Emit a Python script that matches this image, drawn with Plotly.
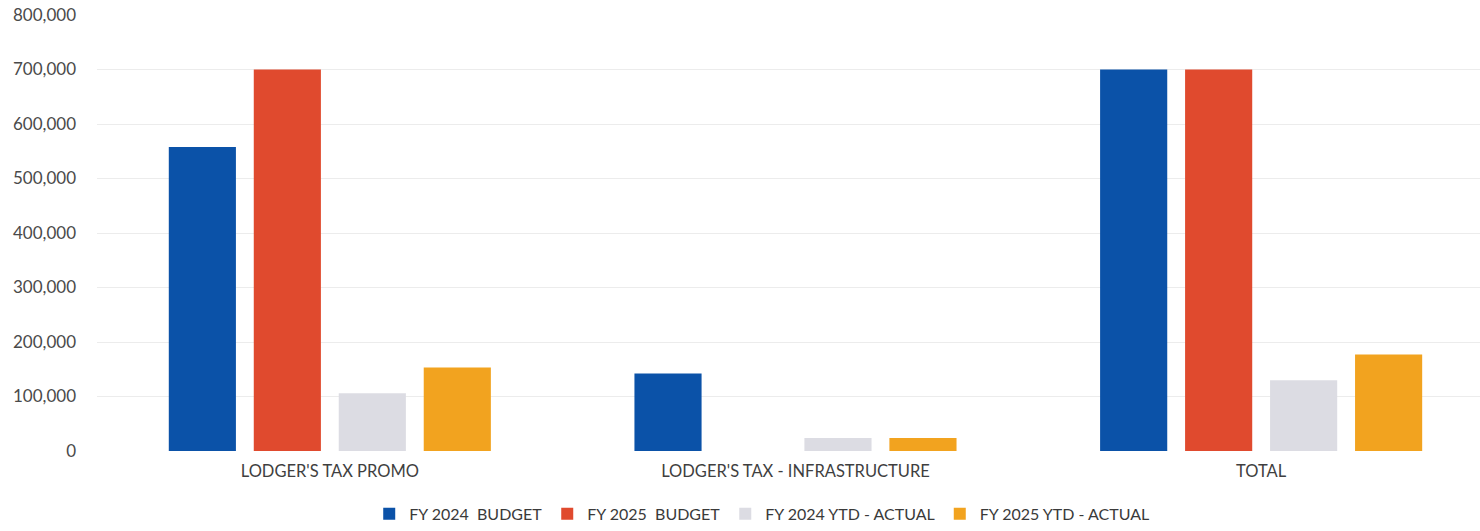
import plotly.graph_objects as go

# Categories and series values
categories = ["LODGER'S TAX PROMO", "LODGER'S TAX - INFRASTRUCTURE", "TOTAL"]
series_names = ["FY 2024\u00a0 BUDGET", "FY 2025\u00a0 BUDGET",
                "FY 2024 YTD - ACTUAL", "FY 2025 YTD - ACTUAL"]
fy2024_budget = [558000, 142000, 700000]
fy2025_budget = [700000, 0, 700000]
fy2024_ytd = [106000, 24000, 130000]
fy2025_ytd = [153000, 24000, 177000]
y_ticks = [0, 100000, 200000, 300000, 400000, 500000, 600000, 700000, 800000]

series_values = [fy2024_budget, fy2025_budget, fy2024_ytd, fy2025_ytd]
colors = ["#0B52A8", "#E04A2E", "#DCDCE3", "#F2A31F"]

x_pos = list(range(len(categories)))

fig = go.Figure()
for name, vals, col in zip(series_names, series_values, colors):
    fig.add_trace(go.Bar(
        x=x_pos, y=vals, name=name,
        marker=dict(color=col, line=dict(width=0)),
    ))

font_family = "Lato, 'Liberation Sans', sans-serif"

fig.update_layout(
    width=1480, height=531,
    margin=dict(l=97, r=0, t=15, b=80),
    paper_bgcolor="white", plot_bgcolor="white",
    barmode="group", bargap=0.27, bargroupgap=0.21,
    font=dict(family=font_family, color="#4a4a4a"),
    showlegend=True,
    legend=dict(
        orientation="h", x=0.481, xanchor="center", y=-0.105, yanchor="top",
        font=dict(size=16, color="#3a3a3a"),
        itemwidth=30, traceorder="normal",
    ),
)
fig.update_xaxes(
    tickmode="array", tickvals=x_pos, ticktext=categories,
    range=[-0.5, 2.47], showgrid=False, zeroline=False, showline=False,
    ticks="", tickfont=dict(size=16.5, color="#3f3f3f"), ticklabelstandoff=8,
)
fig.update_yaxes(
    range=[0, 800000], tickvals=y_ticks, tickformat=",d",
    showgrid=True, gridcolor="#ececec", gridwidth=1,
    zeroline=False, showline=False, ticks="",
    tickfont=dict(size=17, color="#4a4a4a"), ticklabelstandoff=20,
)

fig.write_html("out.html")
